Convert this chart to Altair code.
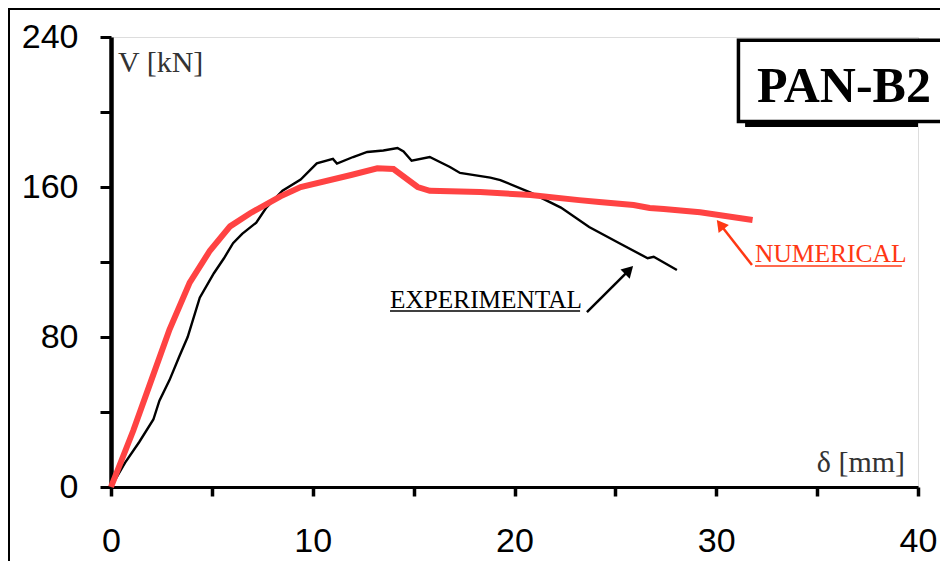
import altair as alt
import pandas as pd

# ---- data ----
exp_x = [0, 0.7, 1.4, 2.1, 2.4, 2.9, 3.4, 3.8, 4.4, 5.1, 5.6, 6.05, 6.5, 7.2, 7.7, 8.5, 9.4,
         10.2, 11.0, 11.2, 12.0, 12.7, 13.5, 14.2, 14.5, 14.9, 15.8, 16.8, 17.3, 18.8, 19.3,
         20.8, 22.3, 23.7, 25.2, 26.6, 26.9, 28.05]
exp_y = [0, 13, 24, 36, 46, 57, 70, 80, 101, 114, 122, 130, 135, 141, 149, 158, 164,
         172.6, 175, 172.5, 176, 178.7, 179.5, 180.8, 179, 174, 176, 170.7, 167.5, 165, 163.7,
         157, 149, 138.7, 130, 122, 122.8, 115.7]

num_x = [0, 1.1, 2.0, 2.9, 3.9, 4.9, 5.9, 6.9, 8.4, 9.4, 11.9, 13.2, 14.0, 15.2, 15.8,
         18.3, 20.8, 23.2, 24.2, 25.9, 26.7, 27.4, 29.2, 31.8]
num_y = [0, 30, 57, 84, 109, 126, 139, 146, 155, 160, 166.4, 170, 169.6, 160, 158,
         157.3, 155.7, 153, 152, 150.4, 148.8, 148.3, 146.5, 142.4]

x_ticks = [0, 5, 10, 15, 20, 25, 30, 35, 40]
y_ticks = [0, 40, 80, 120, 160, 200, 240]

exp_df = pd.DataFrame({"d": exp_x, "V": exp_y})
num_df = pd.DataFrame({"d": num_x, "V": num_y})

X = alt.Scale(domain=[0, 40], nice=False, zero=False)
Y = alt.Scale(domain=[0, 240], nice=False, zero=False)

xax = alt.Axis(values=x_ticks, labelExpr="datum.value % 10 == 0 ? datum.label : ''",
               labelFont="Liberation Sans", labelFontSize=34, labelColor="black",
               labelFlush=False, labelOverlap=False,
               tickSize=9, tickWidth=3.5, tickColor="black", domainColor="black",
               domainWidth=3, labelPadding=28, grid=False, title=None)
yax = alt.Axis(values=y_ticks, labelExpr="datum.value % 80 == 0 ? datum.label : ''",
               labelFont="Liberation Sans", labelFontSize=34, labelColor="black",
               labelFlush=False, labelOverlap=False,
               tickSize=11, tickWidth=3, tickColor="black", domainColor="black",
               domainWidth=4.5, labelPadding=22, grid=False, title=None)

exp_line = alt.Chart(exp_df).mark_line(color="black", strokeWidth=2.4).encode(
    x=alt.X("d:Q", scale=X, axis=xax),
    y=alt.Y("V:Q", scale=Y, axis=yax),
    order="d:Q",
)
num_line = alt.Chart(num_df).mark_line(color="#ff4343", strokeWidth=6).encode(
    x=alt.X("d:Q", scale=X), y=alt.Y("V:Q", scale=Y), order="d:Q"
)

# ---- annotations (data coordinates) ----
def pt(**kw):
    return pd.DataFrame({k: [v] for k, v in kw.items()})

box_shadow = alt.Chart(pt(x=31.43, x2=40.0, y=236.3, y2=192.0)).mark_rect(color="black").encode(
    x=alt.X("x:Q", scale=X), x2="x2:Q", y=alt.Y("y:Q", scale=Y), y2="y2:Q")
box = alt.Chart(pt(x=31.1, x2=41.7, y=238.3, y2=194.9)).mark_rect(
    fill="white", stroke="black", strokeWidth=3.5).encode(
    x=alt.X("x:Q", scale=X), x2="x2:Q", y=alt.Y("y:Q", scale=Y), y2="y2:Q")
box_text = alt.Chart(pt(x=36.33, y=205.3, t="PAN-B2")).mark_text(
    font="Liberation Serif", fontWeight="bold", fontSize=50, color="black",
    align="center", baseline="alphabetic").encode(
    x=alt.X("x:Q", scale=X), y=alt.Y("y:Q", scale=Y), text="t:N")

vlab = alt.Chart(pt(x=0.35, y=221.3, t="V [kN]")).mark_text(
    font="Liberation Serif", fontSize=30, color="#333333", align="left",
    baseline="alphabetic").encode(x=alt.X("x:Q", scale=X), y=alt.Y("y:Q", scale=Y), text="t:N")
dlab = alt.Chart(pt(x=39.36, y=8.0, t="δ [mm]")).mark_text(
    font="Liberation Serif", fontSize=30, color="#333333", align="right",
    baseline="alphabetic").encode(x=alt.X("x:Q", scale=X), y=alt.Y("y:Q", scale=Y), text="t:N")

exp_lab = alt.Chart(pt(x=13.83, y=95.5, t="EXPERIMENTAL")).mark_text(
    font="Liberation Serif", fontSize=25.3, color="black", align="left",
    baseline="alphabetic").encode(x=alt.X("x:Q", scale=X), y=alt.Y("y:Q", scale=Y), text="t:N")
exp_ul = alt.Chart(pt(x=13.83, x2=23.25, y=93.9)).mark_rule(color="black", strokeWidth=1.5).encode(
    x=alt.X("x:Q", scale=X), x2="x2:Q", y=alt.Y("y:Q", scale=Y))
exp_arrow = alt.Chart(pt(x=23.59, x2=25.68, y=93.3, y2=115.7)).mark_rule(
    color="black", strokeWidth=2.5).encode(
    x=alt.X("x:Q", scale=X), x2="x2:Q", y=alt.Y("y:Q", scale=Y), y2="y2:Q")
exp_head = alt.Chart(pt(x=25.68, y=115.7)).mark_point(
    shape="triangle-up", filled=True, size=170, color="black", opacity=1, angle=45).encode(
    x=alt.X("x:Q", scale=X), y=alt.Y("y:Q", scale=Y))

num_col = "#ff3814"
num_lab = alt.Chart(pt(x=31.92, y=120.0, t="NUMERICAL")).mark_text(
    font="Liberation Serif", fontSize=25.5, color=num_col, align="left",
    baseline="alphabetic").encode(x=alt.X("x:Q", scale=X), y=alt.Y("y:Q", scale=Y), text="t:N")
num_ul = alt.Chart(pt(x=31.92, x2=39.2, y=117.9)).mark_rule(color=num_col, strokeWidth=1.5).encode(
    x=alt.X("x:Q", scale=X), x2="x2:Q", y=alt.Y("y:Q", scale=Y))
num_arrow = alt.Chart(pt(x=31.77, x2=30.2, y=118.4, y2=140.0)).mark_rule(
    color=num_col, strokeWidth=2.5).encode(
    x=alt.X("x:Q", scale=X), x2="x2:Q", y=alt.Y("y:Q", scale=Y), y2="y2:Q")
num_head = alt.Chart(pt(x=30.2, y=140.0)).mark_point(
    shape="triangle-up", filled=True, size=170, color=num_col, opacity=1, angle=322).encode(
    x=alt.X("x:Q", scale=X), y=alt.Y("y:Q", scale=Y))

# outer picture frame (top and left edges)
frame_top = alt.Chart(pt(a=0)).mark_rule(color="black", strokeWidth=2).encode(
    x=alt.value(-110), x2=alt.value(840), y=alt.value(-28))
frame_left = alt.Chart(pt(a=0)).mark_rule(color="black", strokeWidth=2).encode(
    x=alt.value(-102), y=alt.value(-29), y2=alt.value(540))

chart = alt.layer(
    frame_top, frame_left,
    exp_line, num_line,
    box_shadow, box, box_text,
    vlab, dlab,
    exp_lab, exp_ul, exp_arrow, exp_head,
    num_lab, num_ul, num_arrow, num_head,
).properties(
    width=807, height=450,
    autosize=alt.AutoSizeParams(type="none"),
    padding={"left": 103, "top": 29, "right": 22, "bottom": 74},
).configure_view(
    stroke="#555555", strokeWidth=3
).configure(background="white")

chart.save("out.html", embed_options={"renderer": "svg", "actions": False})
